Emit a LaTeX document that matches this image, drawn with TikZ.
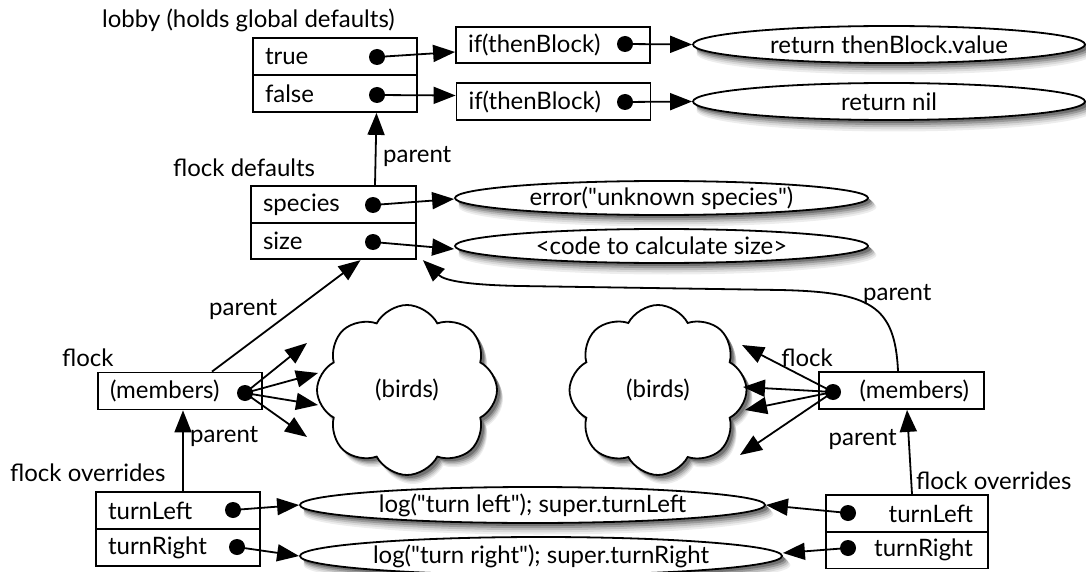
\documentclass[tikz,border=0pt]{standalone}
\usepackage{fontspec}
\setmainfont{Lato}[Ligatures=TeXOff]
\usetikzlibrary{shapes.geometric,shapes.symbols,arrows.meta}
\definecolor{shA}{gray}{0.93}
\definecolor{shB}{gray}{0.85}
\definecolor{shC}{gray}{0.74}
\definecolor{shD}{gray}{0.60}
\definecolor{shE}{gray}{0.45}
% soft shadow of an ellipse: centre x, centre y, x radius, y radius
\newcommand{\myEllShadow}[4]{%
  \foreach \dx/\dy/\c/\g in {6/9/shA/2.5, 5.5/7.5/shB/1.8, 5/6/shC/1.2, 4/4.5/shD/0.6, 3/3/shE/0}{%
    \fill[fill=\c] (#1+\dx,#2+\dy) ellipse [x radius=#3+\g, y radius=#4+\g];}}
\begin{document}
\begin{tikzpicture}[x=1pt,y=-1pt,
  font=\fontsize{24}{28}\selectfont,
  rowbox/.style={draw, line width=1.8pt, minimum height=37pt, inner ysep=0pt, inner xsep=12pt, text width=#1, align=left},
  rowboxr/.style={draw, line width=1.8pt, minimum height=37pt, inner ysep=0pt, inner xsep=15pt, text width=#1, align=right},
  dot/.style={circle, fill=black, inner sep=0pt, minimum size=16pt},
  ell/.style={ellipse, draw, line width=1.8pt, fill=white, inner sep=0pt},
  cloudform/.style={cloud, cloud puffs=8, cloud puff arc=125, aspect=1, shape border rotate=22.5, inner sep=0pt},
  birds/.style={cloudform, draw, line width=1.8pt, fill=white},
  cloudshadow/.style={cloudform, fill=#1, draw=none},
  arr/.style={line width=1.8pt, -{Triangle[length=22pt,width=17pt]}},
  lbl/.style={inner sep=0pt, anchor=west}]
\useasboundingbox (0,0) rectangle (1086,572);

% ---------- lobby ----------
\node[lbl] (lobbyLbl) at (102,20) {lobby (holds global defaults)};
\node[rowbox=140pt] (lobT) at (335,56.5) {true};
\node[rowbox=140pt] (lobF) at (335,93.5) {false};
\node[dot] (dT) at (377,57) {};
\node[dot] (dF) at (377,95) {};

\node[rowbox=170pt, minimum height=36pt] (ifA) at (553,45) {if(thenBlock)};
\node[rowbox=170pt, minimum height=37pt] (ifB) at (553.5,101.5) {if(thenBlock)};
\node[dot] (dIA) at (625,44) {};
\node[dot] (dIB) at (625,102) {};

\myEllShadow{889}{44.5}{196}{18.5}
\node[ell, minimum width=392pt, minimum height=37pt] (retA) at (889,44.5) {return thenBlock.value};
\myEllShadow{889}{101.5}{196}{18.5}
\node[ell, minimum width=392pt, minimum height=37pt] (retB) at (889,101.5) {return nil};

\draw[arr] (dT.center) -- ([yshift=-7pt]ifA.west);
\draw[arr] (dF.center) -- ([yshift=6pt]ifB.west);
\draw[arr] (dIA.center) -- (retA.west);
\draw[arr] (dIB.center) -- (retB.west);

% ---------- flock defaults ----------
\node[lbl] (fdLbl) at (173,168) {flock defaults};
\node[rowbox=141pt, minimum height=36.5pt] (fdS) at (333.5,204.5) {species};
\node[rowbox=141pt, minimum height=36.5pt] (fdZ) at (333.5,241) {size};
\node[dot] (dS) at (373,205) {};
\node[dot] (dZ) at (373,242) {};

\myEllShadow{661.5}{198}{206.5}{17}
\node[ell, minimum width=413pt, minimum height=34pt] (err) at (661.5,198) {error("unknown species")};
\myEllShadow{661.5}{246}{206.5}{17}
\node[ell, minimum width=413pt, minimum height=34pt] (code) at (661.5,246) {<code to calculate size>};

\draw[arr] (dS.center) -- ([yshift=-1pt]err.west);
\draw[arr] (dZ.center) -- ([yshift=-3pt]code.west);

\draw[arr] ([xshift=41.5pt]fdS.north) -- ([xshift=41.5pt]lobF.south);
\node[lbl] (pTop) at (383,157) {parent};

% ---------- clouds ----------
\foreach \dx/\dy/\c in {6/9/shA, 5.5/7.5/shB, 5/6/shC, 4/4.5/shD, 3/3/shE}{
  \node[cloudshadow=\c, minimum width=180pt, minimum height=170pt] (cLs\c) at (407+\dx,390+\dy) {};
  \node[cloudshadow=\c, minimum width=177pt, minimum height=170pt] (cRs\c) at (658+\dx,390+\dy) {};
}
\node[birds, minimum width=180pt, minimum height=170pt] (cL) at (407,390) {(birds)};
\node[birds, minimum width=177pt, minimum height=170pt] (cR) at (658,390) {(birds)};

% ---------- left flock ----------
\node[lbl] (flLbl) at (62,358) {flock};
\node[rowbox=140pt] (mL) at (180,391) {(members)};
\node[dot] (dML) at (245,393) {};
\coordinate (tL1) at (307,343);
\coordinate (tL2) at (318,373);
\coordinate (tL3) at (318,405);
\coordinate (tL4) at (307,437);
\draw[arr] (dML.center) -- (tL1);
\draw[arr] (dML.center) -- (tL2);
\draw[arr] (dML.center) -- (tL3);
\draw[arr] (dML.center) -- (tL4);
\draw[arr] ([xshift=32pt]mL.north) -- ([xshift=27pt]fdZ.south);
\node[lbl] (pUL) at (209,310) {parent};

% ---------- right flock ----------
\node[lbl, anchor=east] (frLbl) at (833,358) {flock};
\node[rowboxr=135pt] (mR) at (901.5,390.5) {(members)};
\node[dot] (dMR) at (833,392) {};
\coordinate (tR1) at (742,345);
\coordinate (tR2) at (743,387);
\coordinate (tR3) at (745,410);
\coordinate (tR4) at (740,455);
\draw[arr] (dMR.center) -- (tR1);
\draw[arr] (dMR.center) -- (tR2);
\draw[arr] (dMR.center) -- (tR3);
\draw[arr] (dMR.center) -- (tR4);
\draw[arr] ([xshift=-3.5pt]mR.north) .. controls (895,305) and (870,292) .. (780,290)
  -- (520,286) .. controls (470,285) and (445,281) .. ([xshift=6pt]fdZ.south east);
\node[lbl] (pUR) at (863,295) {parent};

% ---------- left overrides ----------
\node[lbl] (ovLLbl) at (10,473) {flock overrides};
\node[rowbox=140pt] (oLT) at (178,510.5) {turnLeft};
\node[rowbox=140pt] (oLR) at (178,547.5) {turnRight};
\node[dot] (dOLT) at (233,510) {};
\node[dot] (dOLR) at (237,547) {};
\draw[arr] ([xshift=5pt]oLT.north) -- ([xshift=3pt]mL.south);
\node[lbl] (pLL) at (190,437) {parent};

% ---------- ellipses log ----------
\myEllShadow{532.5}{505}{232.5}{18}
\node[ell, minimum width=465pt, minimum height=36pt] (tl) at (532.5,505) {log("turn left"); super.turnLeft};
\myEllShadow{541}{556}{241}{19}
\node[ell, minimum width=482pt, minimum height=38pt] (tr) at (541,556) {log("turn right"); super.turnRight};
\draw[arr] (dOLT.center) -- (tl.west);
\draw[arr] (dOLR.center) -- (tr.west);

% ---------- right overrides ----------
\node[lbl] (ovRLbl) at (916,481) {flock overrides};
\node[rowboxr=132pt] (oRT) at (907,513.5) {turnLeft};
\node[rowboxr=132pt] (oRR) at (907,550) {turnRight};
\node[dot] (dORT) at (848,513) {};
\node[dot] (dORR) at (848,548) {};
\draw[arr] (dORT.center) -- (tl.east);
\draw[arr] (dORR.center) -- ([yshift=3pt]tr.east);
\draw[arr] ([xshift=5pt]oRT.north) -- ([xshift=5.5pt]mR.south);
\node[lbl, anchor=east] (pLR) at (897,440) {parent};
\end{tikzpicture}
\end{document}
